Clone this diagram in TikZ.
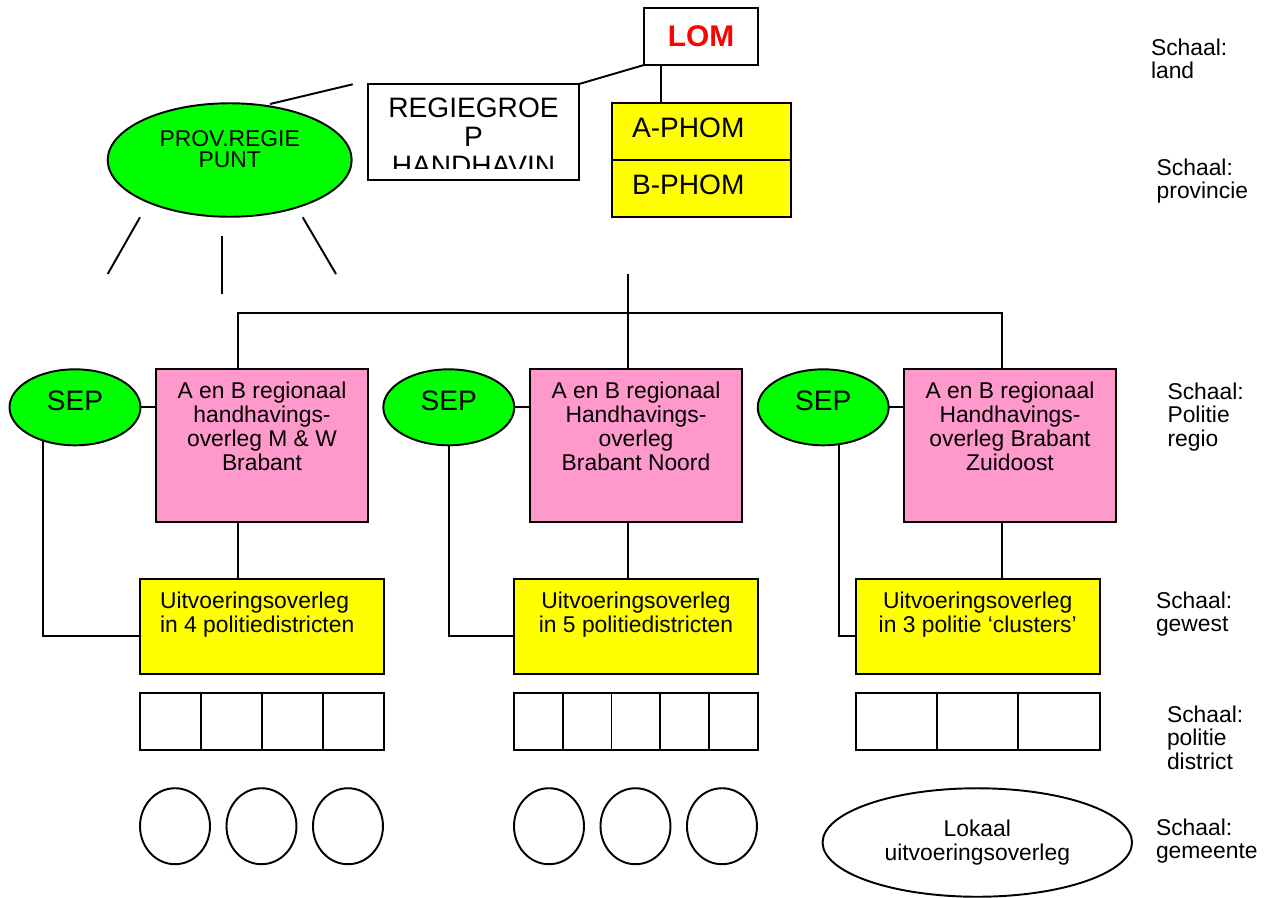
\documentclass[tikz,border=0pt]{standalone}
\usepackage{fontspec}
\setmainfont{Liberation Sans}
\usetikzlibrary{positioning, shapes.geometric, calc}
\definecolor{roze}{HTML}{FF99CC}
\definecolor{groen}{HTML}{00FF00}
\definecolor{geel}{HTML}{FFFF00}
\definecolor{rood}{HTML}{FF0000}

\begin{document}
\begin{tikzpicture}[
x=0.02cm, y=-0.02cm,
line width=1.1pt,
every node/.style={inner sep=0pt, outer sep=0pt, font=\fontsize{13}{13.4}\selectfont},
groot/.style={font=\fontsize{16}{16.5}\selectfont},
tekst/.style={align=center, font=\fontsize{13}{13.7}\selectfont},
doos/.style={draw, rectangle},
overleg/.style={doos, fill=roze, minimum width=4.24cm, minimum height=3.06cm},
uitvoering/.style={doos, fill=geel, minimum width=4.88cm, minimum height=1.9cm},
phom/.style={doos, fill=geel, groot, minimum width=3.58cm, minimum height=1.14cm,
  text width=2.78cm, align=left, text depth=0.16cm},
sep/.style={ellipse, draw, fill=groen, groot, minimum width=2.62cm, minimum height=1.52cm,
  text depth=0.25cm},
vak/.style={doos, minimum height=1.14cm},
kring/.style={ellipse, draw, minimum width=1.4cm, minimum height=1.52cm},
schaal/.style={anchor=north west, align=left},
]
\useasboundingbox (0,0) rectangle (1274,897);

% land en provincie
\node[doos, minimum width=2.28cm, minimum height=1.14cm, text=rood,
  font=\fontsize{17}{17}\selectfont\bfseries] (lom) at (701,36.5) {LOM};
\node[doos, minimum width=4.22cm, minimum height=1.92cm] (regie) at (473.5,132) {};
\begin{scope}
\clip (regie.north west) rectangle ($(regie.south east)+(0,-11)$);
\node[groot, align=center, below=0.28cm of regie.north] (regietekst) {REGIEGROE\\P\\HANDHAVIN};
\end{scope}
\node[phom] (aphom) at (701.5,131.5) {A-PHOM};
\node[phom, below=0pt of aphom] (bphom) {B-PHOM};
\node[ellipse, draw, fill=groen, minimum width=4.88cm, minimum height=2.27cm, align=center,
  font=\fontsize{13}{12.5}\selectfont] (prov) at (229.7,160) {PROV.REGIE\\PUNT\\~};

\coordinate (prov0) at (270,104);
\coordinate (prov1) at (352.7,84.3);
\coordinate (straal1a) at (140,217.3);
\coordinate (straal1b) at (107.7,274);
\coordinate (straal2a) at (221.7,235.7);
\coordinate (straal2b) at (221.7,294);
\coordinate (straal3a) at (302.7,217.3);
\coordinate (straal3b) at (336,274);

\draw (regie.north east) -- (lom.south west);
\draw ($(lom.south west)+(17,0)$) -- ($(aphom.north west)+(49,0)$);
\draw (prov0) -- (prov1);
\draw (straal1a) -- (straal1b);
\draw (straal2a) -- (straal2b);
\draw (straal3a) -- (straal3b);

% politieregio
\node[overleg] (ab1) at (262,445.5) {};
\node[tekst, below=0.26cm of ab1.north] (ab1tekst) {A en B regionaal\\handhavings-\\overleg M \& W\\Brabant};
\node[overleg] (ab2) at (636,445.5) {};
\node[tekst, below=0.26cm of ab2.north] (ab2tekst) {A en B regionaal\\Handhavings-\\overleg\\Brabant Noord};
\node[overleg] (ab3) at (1010,445.5) {};
\node[tekst, below=0.26cm of ab3.north] (ab3tekst) {A en B regionaal\\Handhavings-\\overleg Brabant\\Zuidoost};
\node[sep] (sep1) at (75,407.3) {SEP};
\node[sep] (sep2) at (448.8,407.3) {SEP};
\node[sep] (sep3) at (823.2,407.3) {SEP};

% gewest
\node[uitvoering] (uit1) at (262,626.5) {};
\node[tekst, align=left, below right=0.25cm and 0.4cm of uit1.north west] (uit1tekst) {Uitvoeringsoverleg\\in 4 politiedistricten};
\node[uitvoering] (uit2) at (636,626.5) {};
\node[tekst, below=0.25cm of uit2.north] (uit2tekst) {Uitvoeringsoverleg\\in 5 politiedistricten};
\node[uitvoering] (uit3) at (977.7,626.5) {};
\node[tekst, below=0.25cm of uit3.north] (uit3tekst) {Uitvoeringsoverleg\\in 3 politie ‘clusters’};

\coordinate (bus) at (627.7,274);
\coordinate (bus1) at (237.7,313);
\coordinate (bus3) at (1001.7,313);
\draw (bus) -- (bus |- ab2.north);
\draw (ab1.north -| bus1) -- (bus1) -- (bus3) -- (ab3.north -| bus3);
\draw (ab1.south -| bus1) -- (uit1.north -| bus1);
\draw (ab2.south -| bus) -- (uit2.north -| bus);
\draw (ab3.south -| bus3) -- (uit3.north -| bus3);
\draw (sep1.east) -- (sep1.east -| ab1.west);
\draw (sep2.east) -- (sep2.east -| ab2.west);
\draw (sep3.east) -- (sep3.east -| ab3.west);
\draw (sep1.226) |- ([yshift=-0.19cm]uit1.west);
\draw (sep2.south) |- ([yshift=-0.19cm]uit2.west);
\draw (sep3.293) |- ([yshift=-0.19cm]uit3.west);

% politiedistrict
\node[vak, minimum width=1.22cm] (d1a) at (170.5,721.7) {};
\node[vak, minimum width=1.22cm, right=0pt of d1a] (d1b) {};
\node[vak, minimum width=1.22cm, right=0pt of d1b] (d1c) {};
\node[vak, minimum width=1.22cm, right=0pt of d1c] (d1d) {};
\node[vak, minimum width=0.975cm] (d2a) at (538.4,721.7) {};
\node[vak, minimum width=0.975cm, right=0pt of d2a] (d2b) {};
\node[vak, minimum width=0.975cm, right=0pt of d2b] (d2c) {};
\node[vak, minimum width=0.975cm, right=0pt of d2c] (d2d) {};
\node[vak, minimum width=0.975cm, right=0pt of d2d] (d2e) {};
\node[vak, minimum width=1.627cm] (d3a) at (896.4,721.7) {};
\node[vak, minimum width=1.627cm, right=0pt of d3a] (d3b) {};
\node[vak, minimum width=1.627cm, right=0pt of d3b] (d3c) {};

% gemeente
\node[kring] (g1a) at (175,826.2) {};
\node[kring, right=0.33cm of g1a] (g1b) {};
\node[kring, right=0.33cm of g1b] (g1c) {};
\node[kring] (g2a) at (549,826.2) {};
\node[kring, right=0.33cm of g2a] (g2b) {};
\node[kring, right=0.33cm of g2b] (g2c) {};
\node[ellipse, draw, minimum width=6.19cm, minimum height=2.17cm, align=center] (lokaal) at (977.3,842.5) {Lokaal\\uitvoeringsoverleg};

% schaal
\node[schaal] (sland) at (1151,38.7) {Schaal:\\land};
\node[schaal] (sprov) at (1156.7,158.7) {Schaal:\\provincie};
\node[schaal] (sregio) at (1167.5,382.7) {Schaal:\\Politie\\regio};
\node[schaal] (sgewest) at (1156,591.7) {Schaal:\\gewest};
\node[schaal] (sdistrict) at (1167,705.7) {Schaal:\\politie\\district};
\node[schaal] (sgemeente) at (1156,818.7) {Schaal:\\gemeente};
\end{tikzpicture}
\end{document}
